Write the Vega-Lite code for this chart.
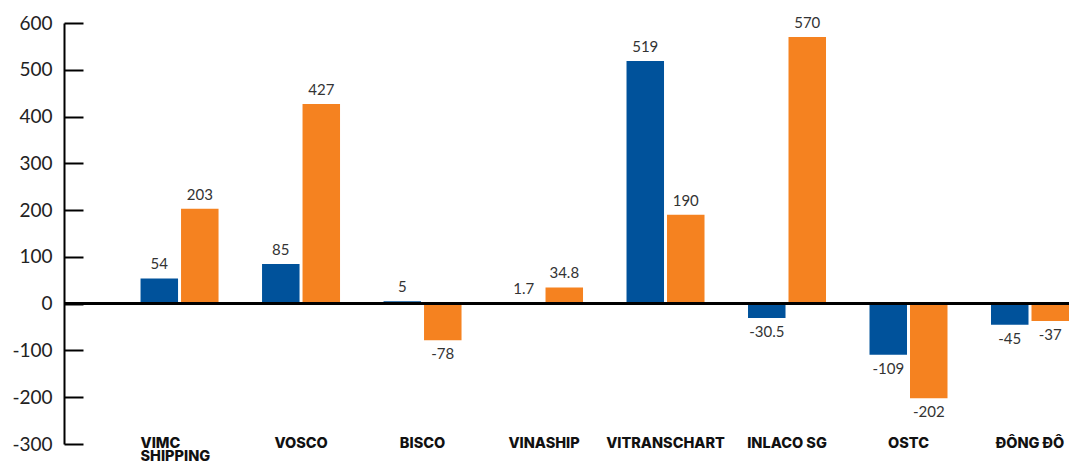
{
  "$schema": "https://vega.github.io/schema/vega-lite/v6.json",
  "width": 1005,
  "height": 421,
  "autosize": {"type": "none"},
  "padding": {"left": 64, "top": 23, "right": 22, "bottom": 19},
  "background": "white",
  "config": {"view": {"stroke": null}, "font": "Lato"},
  "data": {
    "values": [
      {"company": "VIMC SHIPPING", "series": "Series 1", "value": 54},
      {"company": "VIMC SHIPPING", "series": "Series 2", "value": 203},
      {"company": "VOSCO", "series": "Series 1", "value": 85},
      {"company": "VOSCO", "series": "Series 2", "value": 427},
      {"company": "BISCO", "series": "Series 1", "value": 5},
      {"company": "BISCO", "series": "Series 2", "value": -78},
      {"company": "VINASHIP", "series": "Series 1", "value": 1.7},
      {"company": "VINASHIP", "series": "Series 2", "value": 34.8},
      {"company": "VITRANSCHART", "series": "Series 1", "value": 519},
      {"company": "VITRANSCHART", "series": "Series 2", "value": 190},
      {"company": "INLACO SG", "series": "Series 1", "value": -30.5},
      {"company": "INLACO SG", "series": "Series 2", "value": 570},
      {"company": "OSTC", "series": "Series 1", "value": -109},
      {"company": "OSTC", "series": "Series 2", "value": -202},
      {"company": "ĐÔNG ĐÔ", "series": "Series 1", "value": -45},
      {"company": "ĐÔNG ĐÔ", "series": "Series 2", "value": -37}
    ]
  },
  "layer": [
    {
      "mark": {"type": "bar"},
      "encoding": {
        "x": {
          "field": "company", "type": "nominal", "sort": null, "title": null,
          "scale": {"paddingInner": 0.358, "paddingOuter": 0.315, "align": 1},
          "axis": {
            "title": null, "domain": false, "ticks": false, "labelPadding": -8,
            "labelFontSize": 14.5, "labelFontWeight": 800, "labelFont": "Inter",
            "labelColor": "#111111", "labelAngle": 0, "labelBaseline": "top",
            "labelLineHeight": 13, "labelOverlap": false, "labelBound": false, "labelFlush": false,
            "labelExpr": "datum.label == 'VIMC SHIPPING' ? ['VIMC','SHIPPING'] : datum.label",
            "labelAlign": {"condition": {"test": "datum.label == 'VIMC SHIPPING'", "value": "left"}, "value": "center"},
            "labelOffset": {"condition": {"test": "datum.label == 'VIMC SHIPPING'", "value": -39}, "value": 0}
          }
        },
        "xOffset": {"field": "series", "type": "nominal", "scale": {"paddingInner": 0.074}},
        "y": {
          "field": "value", "type": "quantitative", "title": null,
          "scale": {"domain": [-300, 600], "nice": false},
          "axis": {
            "title": null, "grid": false,
            "values": [-300, -200, -100, 0, 100, 200, 300, 400, 500, 600],
            "labelExpr": "'' + datum.value",
            "domainColor": "#000000", "domainWidth": 2,
            "tickColor": "#000000", "tickWidth": 2, "tickSize": -19,
            "labelPadding": 31, "labelFontSize": 19, "labelColor": "#222222", "labelFont": "Lato"
          }
        },
        "color": {
          "field": "series", "type": "nominal",
          "scale": {"domain": ["Series 1", "Series 2"], "range": ["#00529B", "#F58220"]},
          "legend": null
        }
      }
    },
    {
      "mark": {"type": "rule", "color": "#000000", "strokeWidth": 2},
      "encoding": {"y": {"datum": 0, "type": "quantitative", "title": null}}
    },
    {
      "transform": [{"filter": "datum.value >= 0"}],
      "mark": {"type": "text", "baseline": "bottom", "dy": -6, "fontSize": 15, "color": "#333333", "font": "Lato"},
      "encoding": {
        "x": {"field": "company", "type": "nominal", "sort": null, "title": null},
        "xOffset": {"field": "series", "type": "nominal"},
        "y": {"field": "value", "type": "quantitative", "title": null},
        "text": {"field": "value", "type": "nominal"}
      }
    },
    {
      "transform": [{"filter": "datum.value < 0"}],
      "mark": {"type": "text", "baseline": "top", "dy": 7, "fontSize": 15, "color": "#333333", "font": "Lato"},
      "encoding": {
        "x": {"field": "company", "type": "nominal", "sort": null, "title": null},
        "xOffset": {"field": "series", "type": "nominal"},
        "y": {"field": "value", "type": "quantitative", "title": null},
        "text": {"field": "value", "type": "nominal"}
      }
    }
  ]
}
